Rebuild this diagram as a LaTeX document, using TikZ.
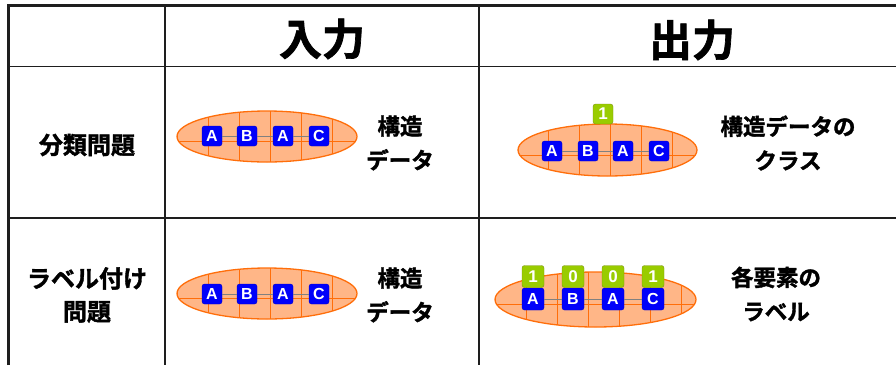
\documentclass[tikz,border=0pt]{standalone}
\usepackage{fontspec}
\setmainfont{Noto Sans CJK JP}[BoldFont={Noto Sans CJK JP Bold}, BoldFeatures={FakeBold=1.6}]
\newfontfamily\latf{Liberation Sans}
\definecolor{ellfill}{RGB}{255,182,135}
\definecolor{ellline}{RGB}{255,110,10}
\definecolor{boxblue}{RGB}{0,0,250}
\definecolor{boxgreen}{RGB}{153,204,0}
\definecolor{greenedge}{RGB}{125,145,20}
\definecolor{rulegray}{RGB}{30,30,30}
\newcommand\mkell[5]{% cx, cy, rx, ry, offset
  \begin{scope}
    \clip (#1,#2) ellipse [x radius=#3, y radius=#4];
    \fill[ellfill] (#1,#2) ellipse [x radius=#3, y radius=#4];
    \foreach \k in {-4,...,4}
      \draw[gridln] ({#1+#5+31*\k},{#2-#4}) -- ++(0,{2*#4});
    \draw[gridln] ({#1-#3},{#2+5}) -- ++({2*#3},0);
  \end{scope}
  \draw[ellline, line width=1.3] (#1,#2) ellipse [x radius=#3, y radius=#4];
}
\tikzset{
  gridln/.style={ellline, line width=0.6},
  bbox/.style={fill=boxblue, draw=boxblue!80!black, rounded corners=2.5, minimum width=20, minimum height=20, inner sep=0, text=white, font=\latf\bfseries\fontsize{16}{16}\selectfont},
  gbox/.style={fill=boxgreen, draw=greenedge, rounded corners=2.5, minimum width=20, minimum height=20, inner sep=0, text=white, font=\latf\bfseries\fontsize{17}{17}\selectfont},
  link/.style={draw=gray, line width=1},
  head/.style={font=\bfseries\fontsize{43}{45}\selectfont},
  rowlbl/.style={align=center, font=\bfseries\fontsize{24}{33}\selectfont},
  desc/.style={align=center, font=\bfseries\fontsize{22.5}{34}\selectfont},
  thick rule/.style={rulegray, line width=3},
  thin rule/.style={rulegray, line width=1.6},
}
\begin{document}
\begin{tikzpicture}[x=1pt, y=-1pt]
\useasboundingbox (0,0) rectangle (896,365);
% table rules
\draw[thin rule] (8,66.5) -- (896,66.5);
\draw[thin rule] (8,218) -- (896,218);
\draw[thin rule] (165,5) -- (165,365);
\draw[thin rule] (479,5) -- (479,365);
\draw[thick rule] (8.5,365) -- (8.5,5.5) -- (896,5.5);
% headers
\node[head] (hin) at (322,39) {入力};
\node[head] (hout) at (692,40) {出力};
% row labels
\node[rowlbl] (r1l) at (87,145) {分類問題};
\node[rowlbl] (r2l) at (87,295) {ラベル付け\\問題};
% row 1 input
\mkell{267}{136.5}{90}{25.5}{3}
\node[bbox] (a1) at (212,136) {A};
\node[bbox] (a2) at (247,136) {B};
\node[bbox] (a3) at (283,136) {A};
\node[bbox] (a4) at (319,136) {C};
\draw[link] (a1) -- (a2) (a2) -- (a3) (a3) -- (a4);
\node[desc] (d1) at (400,143) {構造\\データ};
% row 1 output
\mkell{607.5}{150}{89.5}{26}{3}
\node[bbox] (b1) at (552,151) {A};
\node[bbox] (b2) at (588,151) {B};
\node[bbox] (b3) at (623,151) {A};
\node[bbox] (b4) at (659,151) {C};
\draw[link] (b1) -- (b2) (b2) -- (b3) (b3) -- (b4);
\node[gbox] (g0) at (603,114) {1};
\node[desc] (d2) at (788,143) {構造データの\\クラス};
% row 2 input
\mkell{267}{293.5}{90}{25.5}{3}
\node[bbox] (c1) at (212,294) {A};
\node[bbox] (c2) at (247,294) {B};
\node[bbox] (c3) at (283,294) {A};
\node[bbox] (c4) at (319,294) {C};
\draw[link] (c1) -- (c2) (c2) -- (c3) (c3) -- (c4);
\node[desc] (d3) at (400,295) {構造\\データ};
% row 2 output
\mkell{595.5}{299.5}{100.5}{27.5}{-7}
\node[bbox, minimum width=22, minimum height=22] (e1) at (533,299) {A};
\node[bbox, minimum width=22, minimum height=22] (e2) at (573,299) {B};
\node[bbox, minimum width=22, minimum height=22] (e3) at (613,299) {A};
\node[bbox, minimum width=22, minimum height=22] (e4) at (653,299) {C};
\draw[link] (e1) -- (e2) (e2) -- (e3) (e3) -- (e4);
\node[gbox, minimum width=22, minimum height=22] (f1) at (533,276.5) {1};
\node[gbox, minimum width=22, minimum height=22] (f2) at (573,276.5) {0};
\node[gbox, minimum width=22, minimum height=22] (f3) at (613,276.5) {0};
\node[gbox, minimum width=22, minimum height=22] (f4) at (653,276.5) {1};
\node[desc] (d4) at (776,294) {各要素の\\ラベル};
\end{tikzpicture}
\end{document}
